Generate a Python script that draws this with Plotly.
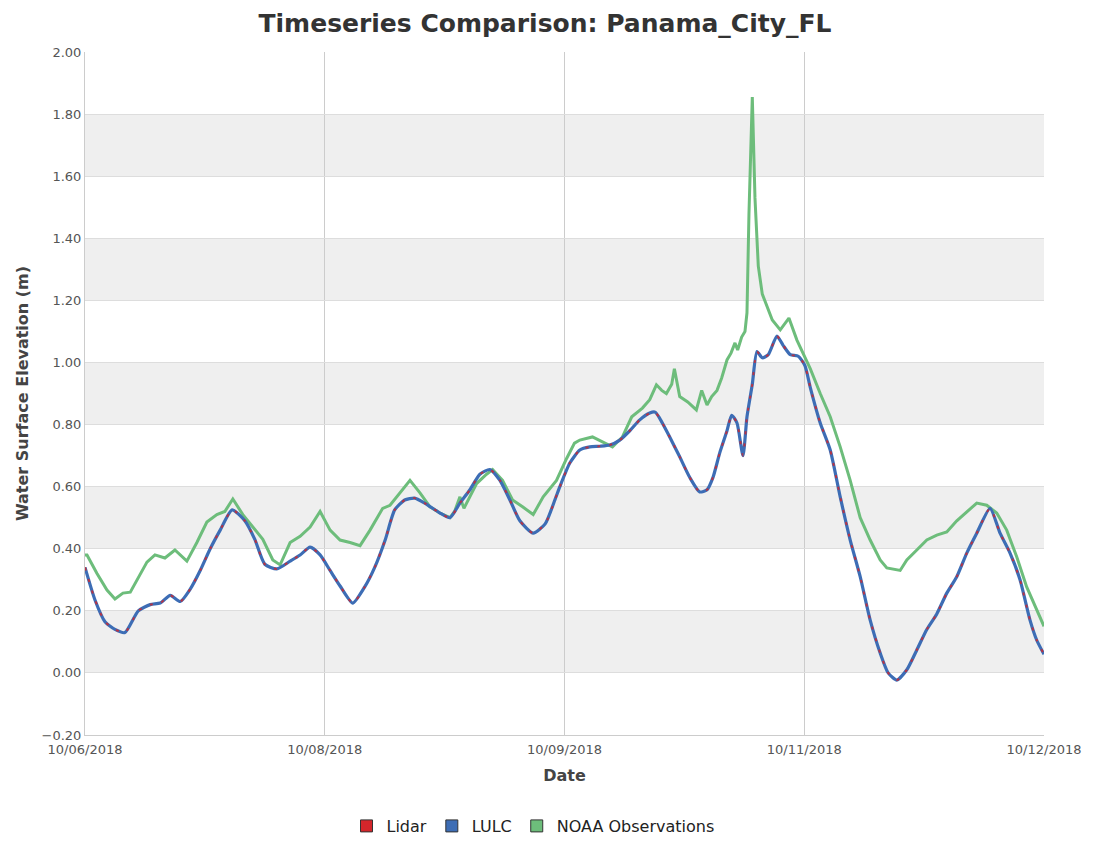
import pandas as pd
import plotly.graph_objects as go

# Hours since 10/06/2018 00:00 and water surface elevation (m)
model_hours = [0, 1.5, 3, 4.5, 6, 8, 9.8, 11.3, 12.8, 14.3, 15.8, 17.3, 18.8, 20.3, 22.1,
               24, 25.5, 27, 28.8, 30.8, 32.3, 33.8, 35.3, 36.8, 38.3, 40.2, 42, 43.5,
               45.1, 46.5, 48, 49.5, 51, 53.3, 54.8, 56.3, 57.8, 59.3, 60.8, 62.3, 63.8,
               65.3, 67.3, 69.1, 70.6, 71.3, 72.8, 74.3, 75.8, 77.3, 78.8, 80.3, 81.8,
               83.3, 84.8, 85.6, 86.3, 87.8, 89.3, 90.8, 92.3, 93.4, 94.3, 95.3, 96.4,
               97.1, 97.9, 98.8, 99.4, 100.2, 100.9, 101.7, 102.6, 103.9, 104.8, 105.9,
               107.1, 108.1, 108.9, 110.4, 111.9, 113.4, 114.9, 116.4, 117.9, 119.4,
               120.6, 121.9, 123.4, 124.9, 126.4, 127.9, 129.4, 130.9, 132.4, 133.9,
               135.9, 137.4, 138.9, 140.4, 141.9, 142.9, 144]
lidar = [0.34, 0.235, 0.165, 0.14, 0.13, 0.20, 0.22, 0.225, 0.25, 0.23, 0.27, 0.33, 0.40,
         0.46, 0.525, 0.49, 0.43, 0.35, 0.335, 0.36, 0.38, 0.405, 0.38, 0.33, 0.28, 0.225,
         0.277, 0.34, 0.43, 0.525, 0.557, 0.563, 0.547, 0.515, 0.50, 0.547, 0.59, 0.64,
         0.655, 0.62, 0.557, 0.49, 0.45, 0.48, 0.56, 0.60, 0.676, 0.718, 0.728, 0.73,
         0.734, 0.75, 0.78, 0.815, 0.837, 0.84, 0.82, 0.76, 0.696, 0.63, 0.583, 0.59,
         0.63, 0.708, 0.78, 0.83, 0.805, 0.70, 0.825, 0.93, 1.035, 1.015, 1.025, 1.085,
         1.056, 1.025, 1.02, 0.99, 0.92, 0.805, 0.718, 0.567, 0.428, 0.31, 0.17, 0.064,
         0.0, -0.023, 0.01, 0.074, 0.14, 0.19, 0.257, 0.31, 0.386, 0.45, 0.53, 0.45,
         0.386, 0.30, 0.17, 0.106, 0.06]
lulc = list(lidar)

noaa_hours = [0, 0.3, 1.8, 3.3, 4.5, 5.7, 6.8, 7.8, 9.3, 10.5, 12, 13.5, 15.3, 16.8, 18.3,
              19.8, 21, 22.2, 23.7, 25.2, 26.7, 28.2, 29.3, 30.8, 32.3, 33.8, 35.3, 36.8,
              38.3, 39.8, 41.3, 42.8, 44.7, 45.8, 47.3, 48.8, 50.3, 51.8, 53.3, 54.8, 55.5,
              56.3, 56.9, 57.5, 58.8, 60.3, 61.2, 62.7, 64.2, 65.7, 67.3, 68.8, 70.8, 72.3,
              73.5, 74.3, 76.2, 77.7, 79.2, 80.7, 82.1, 83.7, 84.8, 85.8, 86.6, 87.3, 88.1,
              88.5, 89.3, 90.5, 91.8, 92.6, 93.4, 94.1, 94.9, 95.6, 96.4, 97, 97.6, 98,
              98.6, 99.1, 99.4, 99.7, 100.2, 100.6, 101.1, 101.7, 102.4, 103.2, 104.4,
              105.7, 106.9, 107.8, 108.9, 110.4, 111.9, 113.4, 114.9, 116.4, 117.9, 119.4,
              120.4, 122.4, 123.4, 124.9, 126.4, 127.9, 129.4, 130.9, 132.4, 133.9, 135.4,
              136.9, 138.4, 139.9, 141.4, 142.9, 144]
noaa = [0.38, 0.38, 0.32, 0.267, 0.238, 0.257, 0.26, 0.30, 0.357, 0.38, 0.37, 0.396, 0.36,
        0.42, 0.486, 0.51, 0.52, 0.56, 0.51, 0.47, 0.43, 0.364, 0.348, 0.42, 0.44, 0.47,
        0.52, 0.46, 0.428, 0.42, 0.41, 0.46, 0.53, 0.54, 0.58, 0.62, 0.58, 0.535, 0.515,
        0.50, 0.52, 0.567, 0.53, 0.557, 0.61, 0.64, 0.655, 0.62, 0.557, 0.535, 0.51, 0.567,
        0.62, 0.69, 0.74, 0.75, 0.76, 0.744, 0.728, 0.76, 0.825, 0.853, 0.88, 0.928, 0.91,
        0.90, 0.93, 0.98, 0.89, 0.873, 0.847, 0.91, 0.863, 0.89, 0.91, 0.95, 1.008, 1.03,
        1.063, 1.04, 1.082, 1.10, 1.16, 1.48, 1.855, 1.53, 1.31, 1.22, 1.18, 1.137, 1.105,
        1.143, 1.072, 1.03, 0.98, 0.90, 0.825, 0.728, 0.62, 0.50, 0.428, 0.364, 0.338,
        0.33, 0.364, 0.396, 0.428, 0.444, 0.454, 0.49, 0.52, 0.547, 0.54, 0.515, 0.46,
        0.374, 0.277, 0.203, 0.15]

tick_hours = [0, 36, 72, 108, 144]
tick_labels = ["10/06/2018", "10/08/2018", "10/09/2018", "10/11/2018", "10/12/2018"]
band_ranges = [(0.0, 0.2), (0.4, 0.6), (0.8, 1.0), (1.2, 1.4), (1.6, 1.8)]

series_names = ["Lidar", "LULC", "NOAA Observations"]
series_colors = ["#d3262b", "#3d6db5", "#6dbd7b"]

FONT = "DejaVu Sans, Verdana, sans-serif"
start = pd.Timestamp("2018-10-06 00:00")


def to_time(hours):
    return start + pd.to_timedelta(hours, unit="h")


fig = go.Figure()

# NOAA observations
fig.add_trace(go.Scatter(x=to_time(noaa_hours), y=noaa, mode="lines",
                         line=dict(color=series_colors[2], width=3),
                         showlegend=False))
# Model runs (the two overlap; Lidar dashed over LULC)
fig.add_trace(go.Scatter(x=to_time(model_hours), y=lulc, mode="lines",
                         line=dict(color=series_colors[1], width=3.2, shape="spline", smoothing=0.6),
                         showlegend=False))
fig.add_trace(go.Scatter(x=to_time(model_hours), y=lidar, mode="lines",
                         line=dict(color=series_colors[0], width=2, dash="3px,9px",
                                   shape="spline", smoothing=0.6),
                         opacity=0.8, showlegend=False))

# Legend entries as square swatches
for name, color in zip(series_names, series_colors):
    fig.add_trace(go.Scatter(x=[None], y=[None], mode="markers", name=name,
                             marker=dict(symbol="square", size=12, color=color,
                                         line=dict(color="#333333", width=1))))

shapes = []
for lo, hi in band_ranges:
    shapes.append(dict(type="rect", xref="paper", yref="y", x0=0, x1=1, y0=lo, y1=hi,
                       fillcolor="#efefef", line=dict(width=0), layer="below"))

fig.update_layout(
    width=1093, height=842,
    margin=dict(l=85, r=49, t=52, b=107),
    paper_bgcolor="white", plot_bgcolor="white",
    font=dict(family=FONT, color="#444444"),
    title=dict(text="<b>Timeseries Comparison: Panama_City_FL</b>",
               x=545 / 1093, xref="container", xanchor="center",
               y=1 - 23 / 842, yref="container", yanchor="middle",
               font=dict(size=25, color="#333333")),
    shapes=shapes,
    xaxis=dict(range=[to_time(0), to_time(144)],
               tickvals=[to_time(h) for h in tick_hours], ticktext=tick_labels,
               showgrid=True, gridcolor="#cccccc", gridwidth=1,
               showline=True, linecolor="#cccccc", linewidth=1,
               ticks="", ticklabelstandoff=2, tickfont=dict(size=13, color="#555555"),
               title=dict(text="<b>Date</b>", font=dict(size=16, color="#444444"), standoff=14)),
    yaxis=dict(range=[-0.2, 2.0], dtick=0.2, tick0=0, tickformat=".2f",
               showgrid=True, gridcolor="#dddddd", gridwidth=1, zeroline=False,
               showline=True, linecolor="#cccccc", linewidth=1,
               ticks="", tickfont=dict(size=13, color="#555555"),
               title=dict(text="<b>Water Surface Elevation (m)</b>",
                          font=dict(size=16, color="#444444"), standoff=8)),
    legend=dict(orientation="h", x=533 / 1093, xref="container", xanchor="center",
                y=1 - 826 / 842, yref="container", yanchor="middle",
                font=dict(size=16, color="#222222"), itemwidth=30,
                tracegroupgap=0, bgcolor="rgba(0,0,0,0)"),
)

fig.write_html("out.html")
